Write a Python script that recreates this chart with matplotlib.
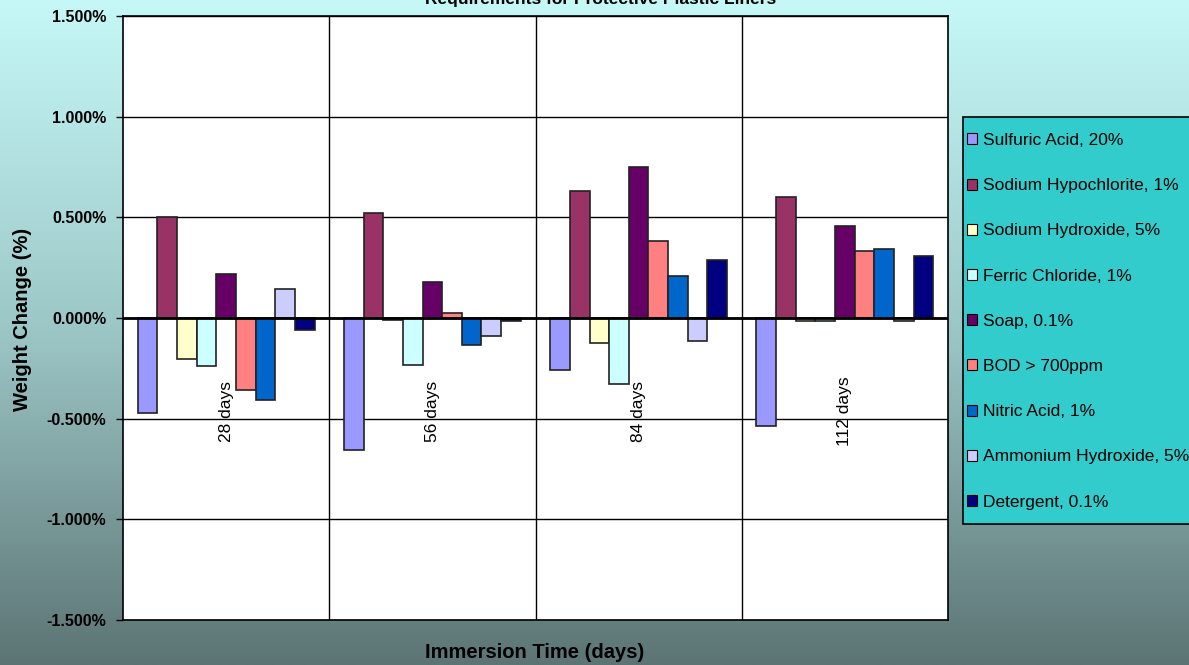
import numpy as np
import matplotlib.pyplot as plt
from matplotlib.patches import Patch, Rectangle
from matplotlib.colors import LinearSegmentedColormap

plt.rcParams['font.family'] = ['Liberation Sans', 'DejaVu Sans']

# data (weight change in %)
categories = ["28 days", "56 days", "84 days", "112 days"]
series_names = [
    "Sulfuric Acid, 20%",
    "Sodium Hypochlorite, 1%",
    "Sodium Hydroxide, 5%",
    "Ferric Chloride, 1%",
    "Soap, 0.1%",
    "BOD > 700ppm",
    "Nitric Acid, 1%",
    "Ammonium Hydroxide, 5%",
    "Detergent, 0.1%",
]
sulfuric = [-0.47, -0.655, -0.257, -0.535]
hypochlorite = [0.50, 0.522, 0.630, 0.603]
sodium_hydroxide = [-0.204, -0.010, -0.123, -0.015]
ferric = [-0.238, -0.233, -0.326, -0.015]
soap = [0.219, 0.178, 0.752, 0.455]
bod = [-0.357, 0.023, 0.380, 0.332]
nitric = [-0.405, -0.136, 0.211, 0.342]
ammonium = [0.145, -0.090, -0.116, -0.017]
detergent = [-0.058, -0.017, 0.287, 0.307]
series = [sulfuric, hypochlorite, sodium_hydroxide, ferric, soap, bod,
          nitric, ammonium, detergent]
colors = ['#9999FF', '#993366', '#FFFFCC', '#CCFFFF', '#660066',
          '#FF8080', '#0066CC', '#CCCCFF', '#000080']
yticks = [-1.5, -1.0, -0.5, 0.0, 0.5, 1.0, 1.5]

W, H = 1189, 665
fig = plt.figure(figsize=(W / 100, H / 100), dpi=100)

# gradient background
bg = fig.add_axes([0, 0, 1, 1], zorder=-10)
cmap = LinearSegmentedColormap.from_list('bg', ['#C6F8F8', '#9CC6C6', '#5C7474'])
bg.imshow(np.linspace(0, 1, 256).reshape(-1, 1), aspect='auto', cmap=cmap,
          extent=[0, 1, 0, 1])
bg.set_axis_off()

ax = fig.add_axes([123 / W, 1 - 620 / H, (948 - 123) / W, (620 - 16) / H])
ax.set_facecolor('white')

x = np.arange(len(categories))
w = 1 / 10.5
for j, (vals, c, name) in enumerate(zip(series, colors, series_names)):
    ax.bar(x + (j - 4) * w, vals, width=w, color=c, edgecolor='#222222',
           linewidth=1.2, label=name, zorder=2)

ax.axhline(0, color='black', linewidth=2, zorder=3)
ax.set_xlim(-0.5, 3.5)
ax.set_ylim(-1.5, 1.5)
ax.set_yticks(yticks)
ax.set_yticklabels([f"{v:.3f}%" for v in yticks], fontsize=11.5, fontweight='bold')
ax.tick_params(axis='y', direction='out', length=5, width=1, pad=7)
ax.set_xticks([])
ax.set_xticks([0.5, 1.5, 2.5], minor=True)
ax.tick_params(axis='x', which='both', length=0)
ax.grid(True, axis='y', color='black', linewidth=1, zorder=0)
ax.grid(True, axis='x', which='minor', color='black', linewidth=1, zorder=0)
ax.set_axisbelow(True)
for s in ax.spines.values():
    s.set_color('black')
    s.set_linewidth(1.2)

for i, cat in enumerate(categories):
    ax.text(i, -0.465, cat, rotation=90, ha='center', va='center', fontsize=12.5)

fig.text(601 / W, 1 - 4 / H, "Requirements for Protective Plastic Liners",
         ha='center', va='baseline', fontsize=12.5, fontweight='bold')
fig.text(23 / W, 1 - 319 / H, "Weight Change (%)", rotation=90,
         ha='center', va='center', fontsize=14.5, fontweight='bold')
fig.text(535 / W, 1 - 658 / H, "Immersion Time (days)",
         ha='center', va='baseline', fontsize=14.5, fontweight='bold')

# legend box (runs off the right edge like the reference)
fig.patches.append(Rectangle((963 / W, 1 - 524 / H), (1300 - 963) / W, (524 - 117) / H,
                             transform=fig.transFigure, facecolor='#33CCCC',
                             edgecolor='black', linewidth=1.2, zorder=1))
handles = [Patch(facecolor=c, edgecolor='black', linewidth=0.8) for c in colors]
fig.legend(handles, series_names, loc='upper left',
           bbox_to_anchor=(967 / W, 1 - 133 / H), frameon=False, fontsize=12.5,
           handlelength=0.6, handleheight=0.6, handletextpad=0.35,
           labelspacing=1.74, borderpad=0, borderaxespad=0)

fig.savefig('out.png', dpi=100)
